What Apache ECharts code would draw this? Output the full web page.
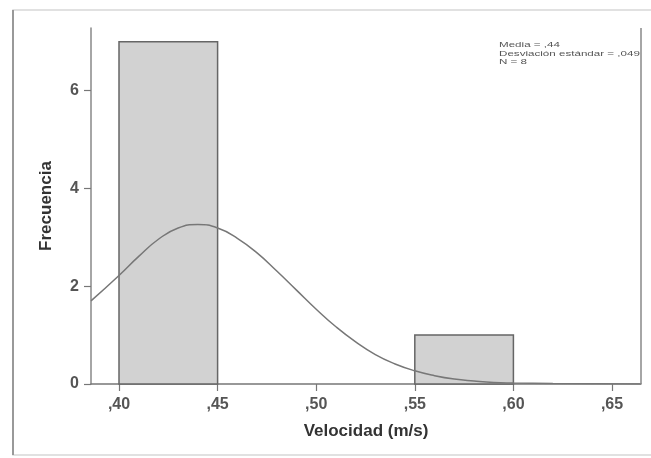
<!DOCTYPE html>
<html>
<head>
<meta charset="utf-8">
<script src="https://cdn.jsdelivr.net/npm/echarts@6/dist/echarts.min.js"></script>
<style>html,body{margin:0;padding:0;background:#fff;}#c{width:651px;height:458px;}</style>
</head>
<body>
<div id="c"></div>
<script>
// Histogram bins: [start, end, frequency]
const binStarts = [0.40, 0.55];
const binEnds = [0.45, 0.60];
const binCounts = [7, 1];
// Fitted normal curve
const curveX = [0.3858, 0.40, 0.41, 0.42, 0.43, 0.44, 0.45, 0.46, 0.47, 0.48, 0.49, 0.50, 0.51, 0.52, 0.53, 0.54, 0.55, 0.56, 0.57, 0.58, 0.59, 0.60, 0.62, 0.6647];
const curveY = [1.70, 2.22, 2.61, 2.96, 3.19, 3.26, 3.19, 2.98, 2.68, 2.31, 1.92, 1.53, 1.17, 0.86, 0.60, 0.41, 0.27, 0.17, 0.10, 0.06, 0.03, 0.02, 0.01, 0.00];
const xTicks = [0.40, 0.45, 0.50, 0.55, 0.60, 0.65];
const yTicks = [0, 2, 4, 6];
const statsLines = ['Media = ,44', 'Desviación estándar = ,049', 'N = 8'];

const fmt = v => ',' + (Math.round(v * 100)).toString().padStart(2, '0');

const chart = echarts.init(document.getElementById('c'), null, {renderer: 'canvas'});
const bars = binStarts.map((s, i) => [s, binEnds[i], binCounts[i]]);
const curve = curveX.map((x, i) => [x, curveY[i]]);

chart.setOption({
  animation: false,
  backgroundColor: '#fff',
  grid: {left: 91, top: 28, right: 10, bottom: 74, show: false},
  xAxis: {
    type: 'value', min: 0.3858, max: 0.6647,
    name: 'Velocidad (m/s)', nameLocation: 'middle', nameGap: 39,
    nameTextStyle: {fontFamily: 'Liberation Sans', fontWeight: 'bold', fontSize: 17, color: '#333'},
    axisLine: {show: true, onZero: false, lineStyle: {color: '#777', width: 1.5}},
    axisTick: {show: true, length: 7, customValues: xTicks, lineStyle: {color: '#777', width: 1.2}},
    axisLabel: {customValues: xTicks, formatter: fmt, margin: 13, fontFamily: 'Liberation Sans', fontWeight: 'bold', fontSize: 16, color: '#555'},
    splitLine: {show: false}
  },
  yAxis: {
    type: 'value', min: 0, max: 7.28,
    name: 'Frecuencia', nameLocation: 'middle', nameGap: 36, nameRotate: 90,
    nameTextStyle: {fontFamily: 'Liberation Sans', fontWeight: 'bold', fontSize: 17, color: '#333'},
    axisLine: {show: true, lineStyle: {color: '#888', width: 1.5}},
    axisTick: {show: true, length: 7, customValues: yTicks, lineStyle: {color: '#777', width: 1.2}},
    axisLabel: {customValues: yTicks, margin: 12, fontFamily: 'Liberation Sans', fontWeight: 'bold', fontSize: 16, color: '#555'},
    splitLine: {show: false}
  },
  series: [
    {
      type: 'custom',
      data: bars,
      renderItem: function (params, api) {
        const p0 = api.coord([api.value(0), 0]);
        const p1 = api.coord([api.value(1), api.value(2)]);
        return {
          type: 'rect',
          shape: {x: p0[0], y: p1[1], width: p1[0] - p0[0], height: p0[1] - p1[1]},
          style: {fill: '#d2d2d2', stroke: '#666', lineWidth: 1.5}
        };
      },
      encode: {x: [0, 1], y: 2},
      z: 2
    },
    {
      type: 'line',
      data: curve,
      smooth: true,
      showSymbol: false,
      lineStyle: {color: '#777', width: 1.5},
      z: 3
    }
  ],
  graphic: [
    {type: 'rect', shape: {x: 13, y: 10, width: 660, height: 445}, style: {fill: 'none', stroke: '#d8d8d8', lineWidth: 1.5}, z: 0},
    {type: 'line', shape: {x1: 13, y1: 10, x2: 13, y2: 455}, style: {stroke: '#999', lineWidth: 2}},
    {type: 'line', shape: {x1: 641, y1: 28, x2: 641, y2: 384}, style: {stroke: '#888', lineWidth: 1.5}, z: 10},
    {type: 'text', x: 499, y: 41, scaleX: 1.45, style: {text: statsLines.join('\n'), font: '8px "Liberation Sans"', fill: '#555', lineHeight: 8.5}}
  ]
});
</script>
</body>
</html>
